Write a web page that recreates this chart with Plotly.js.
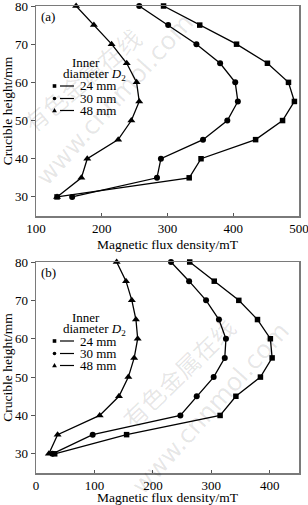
<!DOCTYPE html>
<html>
<head>
<meta charset="utf-8">
<script src="https://cdn.plot.ly/plotly-3.0.1.min.js"></script>
<style>html,body{margin:0;padding:0;background:#fff;}#chart{width:308px;height:505px;}</style>
</head>
<body>
<div id="chart"></div>
<script>
// Crucible heights (mm)
const heights = [80, 75, 70, 65, 60, 55, 50, 45, 40, 35, 30];
// (a) magnetic flux density (mT)
const a24 = [294, 349, 405, 452, 484, 493, 475, 434, 351, 333, 132];
const a30 = [257, 301, 344, 380, 403, 407, 391, 354, 290, 284, 155];
const a48 = [161, 188, 215, 238, 253, 257, 245, 225, 178, 169, 132];
// (b) magnetic flux density (mT)
const b24 = [263, 305, 347, 379, 401, 404, 384, 342, 315, 155, 32];
const b30 = [231, 262, 291, 313, 325, 323, 304, 275, 247, 97, 28];
const b48 = [138, 154, 164, 171, 174, 168, 158, 142, 109, 37, 22];
const seriesNames = ['24 mm', '30 mm', '48 mm'];
const symbols = ['square', 'circle', 'triangle-up'];
const panelLabels = ['(a)', '(b)'];
const xTitle = 'Magnetic flux density/mT';
const yTitle = 'Crucible height/mm';
const watermarkCN = '有色金属在线';
const watermarkURL = 'www.cnnmol.com';

const FONT = "'Liberation Serif', 'Times New Roman', serif";
const W = 308, H = 505, ML = 36, MR = 9, MT = 6, MB = 32;
const PW = W - ML - MR, PH = H - MT - MB;
const px2x = p => (p - ML) / PW;
const px2y = p => (H - MB - p) / PH;

const sizes = {'square': 5.5, 'circle': 6, 'triangle-up': 7};
function mk(xs, i, xa, ya) {
  return {
    x: xs, y: heights, xaxis: xa, yaxis: ya, type: 'scatter', mode: 'lines+markers',
    name: seriesNames[i], showlegend: false, cliponaxis: false,
    line: {color: '#000', width: 1.3},
    marker: {symbol: symbols[i], size: sizes[symbols[i]], color: '#000'}
  };
}
const data = [
  mk(a24, 0, 'x', 'y'), mk(a30, 1, 'x', 'y'), mk(a48, 2, 'x', 'y'),
  mk(b24, 0, 'x2', 'y2'), mk(b30, 1, 'x2', 'y2'), mk(b48, 2, 'x2', 'y2')
];

const axBase = {
  showgrid: false, zeroline: false, showline: true, mirror: true,
  linecolor: '#7a7a7a', linewidth: 1.5, tickcolor: '#555', tickwidth: 1,
  ticklabeloverflow: 'allow',
  tickfont: {family: FONT, size: 13, color: '#000'}
};
const xa = (range, anchor) => Object.assign({}, axBase, {
  anchor: anchor, range: range, dtick: 100, ticks: 'inside', ticklen: 3,
  title: {text: xTitle, font: {family: FONT, size: 13.5, color: '#000'}, standoff: 4}
});
const ya = (domain, anchor) => Object.assign({}, axBase, {
  anchor: anchor, domain: domain, range: [25, 80], tick0: 0, dtick: 10, ticks: 'outside', ticklen: 4,
  title: {text: yTitle, font: {family: FONT, size: 13.5, color: '#000'}, standoff: 1}
});

const annotations = [];
const shapes = [];

// faint watermark text (as seen in the reference image)
const wm = [
  {t: watermarkCN, x: 82, y: 80, a: -40, s: 24},
  {t: watermarkURL, x: 115, y: 100, a: -48, s: 25},
  {t: watermarkCN, x: 178, y: 372, a: -44, s: 24},
  {t: watermarkURL, x: 210, y: 408, a: -48, s: 25}
];
wm.forEach(w => annotations.push({xref: 'paper', yref: 'paper', x: px2x(w.x), y: px2y(w.y),
  xanchor: 'center', yanchor: 'middle', text: w.t, textangle: w.a, showarrow: false,
  font: {family: w.t === watermarkCN ? 'Noto Sans CJK SC' : 'DejaVu Sans', size: w.s, color: 'rgba(0,0,0,0.10)'}}));

const panelTops = [6, 262];
panelTops.forEach((top, k) => {
  annotations.push({xref: 'paper', yref: 'paper', x: px2x(39), y: px2y(top + 10), xanchor: 'left', yanchor: 'middle',
    text: panelLabels[k], showarrow: false, font: {family: FONT, size: 13, color: '#000'}});
  const off = top - 5 + (k ? -1 : 0);
  annotations.push({xref: 'paper', yref: 'paper', x: px2x(86), y: px2y(off + 61.5), xanchor: 'center', yanchor: 'middle',
    text: 'Inner', showarrow: false, font: {family: FONT, size: 13, color: '#000'}});
  annotations.push({xref: 'paper', yref: 'paper', x: px2x(61), y: px2y(off + 73.5), xanchor: 'left', yanchor: 'middle',
    text: 'diameter <i>D</i><sub>2</sub>', showarrow: false, font: {family: FONT, size: 13, color: '#000'}});
  const rows = [85, 97.5, 109.5];
  rows.forEach((ry, i) => {
    const cy = off + ry;
    annotations.push({xref: 'paper', yref: 'paper', x: px2x(78), y: px2y(cy), xanchor: 'left', yanchor: 'middle',
      text: seriesNames[i], showarrow: false, font: {family: FONT, size: 13, color: '#000'}});
    shapes.push({type: 'line', xref: 'paper', yref: 'paper', x0: px2x(60), x1: px2x(74), y0: px2y(cy), y1: px2y(cy),
      line: {color: '#000', width: 1.2}});
    const mx = 54.5, r = 1.8;
    if (i === 0) {
      shapes.push({type: 'rect', xref: 'paper', yref: 'paper', x0: px2x(mx - r), x1: px2x(mx + r), y0: px2y(cy - r), y1: px2y(cy + r),
        fillcolor: '#000', line: {width: 0}});
    } else if (i === 1) {
      shapes.push({type: 'circle', xref: 'paper', yref: 'paper', x0: px2x(mx - r), x1: px2x(mx + r), y0: px2y(cy - r), y1: px2y(cy + r),
        fillcolor: '#000', line: {width: 0}});
    } else {
      shapes.push({type: 'path', xref: 'paper', yref: 'paper',
        path: `M ${px2x(mx - 2.4)} ${px2y(cy + 1.8)} L ${px2x(mx + 2.4)} ${px2y(cy + 1.8)} L ${px2x(mx)} ${px2y(cy - 2.4)} Z`,
        fillcolor: '#000', line: {width: 0}});
    }
  });
});

const layout = {
  width: W, height: H, margin: {l: ML, r: MR, t: MT, b: MB},
  paper_bgcolor: '#fff', plot_bgcolor: '#fff',
  font: {family: FONT, size: 13, color: '#000'},
  showlegend: false,
  xaxis: xa([100, 500], 'y'),
  yaxis: ya([px2y(216), 1], 'x'),
  xaxis2: xa([0, 450], 'y2'),
  yaxis2: ya([0, px2y(262)], 'x2'),
  annotations: annotations,
  shapes: shapes
};
Plotly.newPlot('chart', data, layout, {displayModeBar: false, staticPlot: true});
</script>
</body>
</html>
